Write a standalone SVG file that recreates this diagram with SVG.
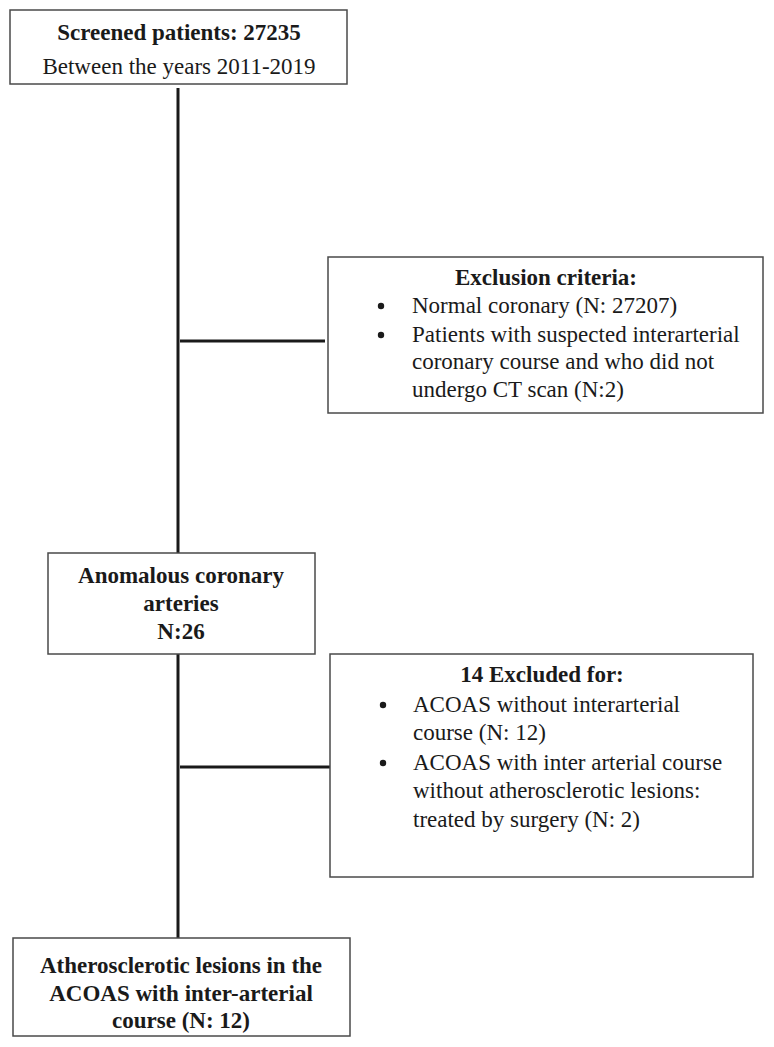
<svg xmlns="http://www.w3.org/2000/svg" width="774" height="1047" viewBox="0 0 774 1047">
<style>
.box{fill:#fff;stroke:#4a4a4a;stroke-width:1.5}
.t{font-family:"Liberation Serif","Times New Roman",serif;font-size:23px;fill:#1a1a1a}
.b{font-weight:bold}
.c{text-anchor:middle}
.ln{stroke:#1a1a1a;stroke-width:3;fill:none}
.dot{fill:#1a1a1a}
</style>
<rect width="774" height="1047" fill="#fff"/>
<g id="connectors">
<line class="ln" x1="178" y1="88" x2="178" y2="553"/>
<line class="ln" x1="180" y1="341" x2="325" y2="341"/>
<line class="ln" x1="178" y1="654" x2="178" y2="940"/>
<line class="ln" x1="180" y1="767" x2="330" y2="767"/>
</g>
<g id="screened">
<rect class="box" x="10" y="10" width="337" height="74"/>
<text class="t b c" x="179" y="40">Screened patients: 27235</text>
<text class="t c" x="179" y="74">Between the years 2011-2019</text>
</g>
<g id="exclusion">
<rect class="box" x="328" y="257" width="435" height="156"/>
<text class="t b c" x="546" y="285">Exclusion criteria:</text>
<circle class="dot" cx="381" cy="306" r="3.2"/>
<text class="t" x="412" y="313">Normal coronary (N: 27207)</text>
<circle class="dot" cx="381" cy="335" r="3.2"/>
<text class="t" x="412" y="342">Patients with suspected interarterial</text>
<text class="t" x="412" y="369">coronary course and who did not</text>
<text class="t" x="412" y="397">undergo CT scan (N:2)</text>
</g>
<g id="anomalous">
<rect class="box" x="48" y="553" width="267" height="101"/>
<text class="t b c" x="181" y="583">Anomalous coronary</text>
<text class="t b c" x="181" y="611">arteries</text>
<text class="t b c" x="181" y="639">N:26</text>
</g>
<g id="excluded14">
<rect class="box" x="330" y="654" width="423" height="223"/>
<text class="t b c" x="542" y="682">14 Excluded for:</text>
<circle class="dot" cx="383" cy="705" r="3.2"/>
<text class="t" x="413" y="712">ACOAS without interarterial</text>
<text class="t" x="413" y="740">course (N: 12)</text>
<circle class="dot" cx="383" cy="763" r="3.2"/>
<text class="t" x="413" y="770">ACOAS with inter arterial course</text>
<text class="t" x="413" y="798">without atherosclerotic lesions:</text>
<text class="t" x="413" y="827">treated by surgery (N: 2)</text>
</g>
<g id="final">
<rect class="box" x="13" y="938" width="337" height="98"/>
<text class="t b c" x="181" y="973">Atherosclerotic lesions in the</text>
<text class="t b c" x="181" y="1001">ACOAS with inter-arterial</text>
<text class="t b c" x="181" y="1028">course (N: 12)</text>
</g>
</svg>
